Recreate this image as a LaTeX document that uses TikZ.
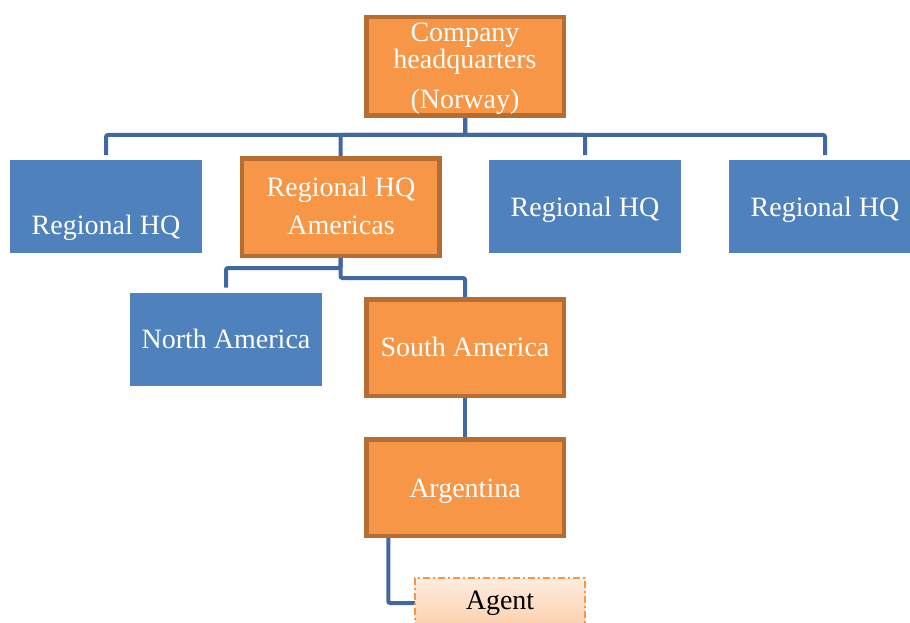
\documentclass[tikz,border=0pt]{standalone}
\usepackage{fontspec}
\setmainfont{Liberation Serif}
\usetikzlibrary{calc,backgrounds}
\definecolor{orfill}{HTML}{F79646}
\definecolor{ordraw}{HTML}{B66D31}
\definecolor{blfill}{HTML}{4F81BD}
\definecolor{conn}{HTML}{41689F}
\definecolor{agtop}{HTML}{FEEDE0}
\definecolor{agbot}{HTML}{FBCFAA}
\tikzset{
  obox/.style={draw=ordraw, fill=orfill, line width=4.5pt, minimum width=197.5pt, minimum height=97pt, inner sep=0pt, outer sep=0pt},
  bbox/.style={fill=blfill, minimum width=192pt, minimum height=93pt, inner sep=0pt, outer sep=0pt},
  wtext/.style={text=white, font=\fontsize{28}{30}\selectfont, anchor=base, inner sep=0pt},
  ktext/.style={text=black, font=\fontsize{28}{30}\selectfont, anchor=base, inner sep=0pt},
  link/.style={draw=conn, line width=4pt, rounded corners=2pt},
  agbox/.style={draw=orfill, line width=1.6pt, dash pattern=on 7pt off 3pt on 2pt off 3pt, top color=agtop, bottom color=agbot, minimum width=170pt, minimum height=50pt, inner sep=0pt, outer sep=0pt}
}
\begin{document}
\begin{tikzpicture}[x=1pt,y=-1pt]
\useasboundingbox (0,0) rectangle (910,623);
\clip (0,0) rectangle (910,623);
% boxes
\node[obox, minimum height=98.5pt] (hq) at (465,66.5) {};
\node[bbox] (rh1) at (106,206.5) {};
\node[obox, minimum height=97.5pt] (am) at (340.5,207) {};
\node[bbox] (rh3) at (585,206.5) {};
\node[bbox] (rh4) at (825,206.5) {};
\node[bbox] (na) at (226,339) {};
\node[obox, minimum height=96.5pt] (sa) at (465,347.5) {};
\node[obox, minimum height=96.5pt] (ar) at (465,487.5) {};
\node[agbox] (ag) at (500,603) {};
% texts
\node[wtext] (t1) at (465,42) {Company};
\node[wtext] (t2) at (465,69) {headquarters};
\node[wtext] (t3) at (465,109) {(Norway)};
\node[wtext] (t4) at (106,234) {Regional HQ};
\node[wtext] (t5) at (341,196) {Regional HQ};
\node[wtext] (t6) at (341,234) {Americas};
\node[wtext] (t7) at (585,216) {Regional HQ};
\node[wtext] (t8) at (825,216) {Regional HQ};
\node[wtext] (t9) at (226,348) {North America};
\node[wtext] (t10) at (465,356) {South America};
\node[wtext] (t11) at (465,497) {Argentina};
\node[ktext] (t12) at (500,609) {Agent};
% connectors
\begin{scope}[on background layer]
\draw[link, shorten >=5pt] (hq.south) -- (hq.south |- 0,135) -| (rh1.north);
\draw[link] (hq.south) -- (hq.south |- 0,135) -| (am.north);
\draw[link, shorten >=5pt] (hq.south) -- (hq.south |- 0,135) -| (rh3.north);
\draw[link, shorten >=5pt] (hq.south) -- (hq.south |- 0,135) -| (rh4.north);
\draw[link, shorten >=5pt] (am.south) -- (am.south |- 0,268) -| (na.north);
\draw[link] (am.south) -- (am.south |- 0,278) -| (sa.north);
\draw[link] (sa.south) -- (ar.north);
\draw[link] ([xshift=22pt]ar.south west) |- (ag.west);
\end{scope}
\end{tikzpicture}
\end{document}
